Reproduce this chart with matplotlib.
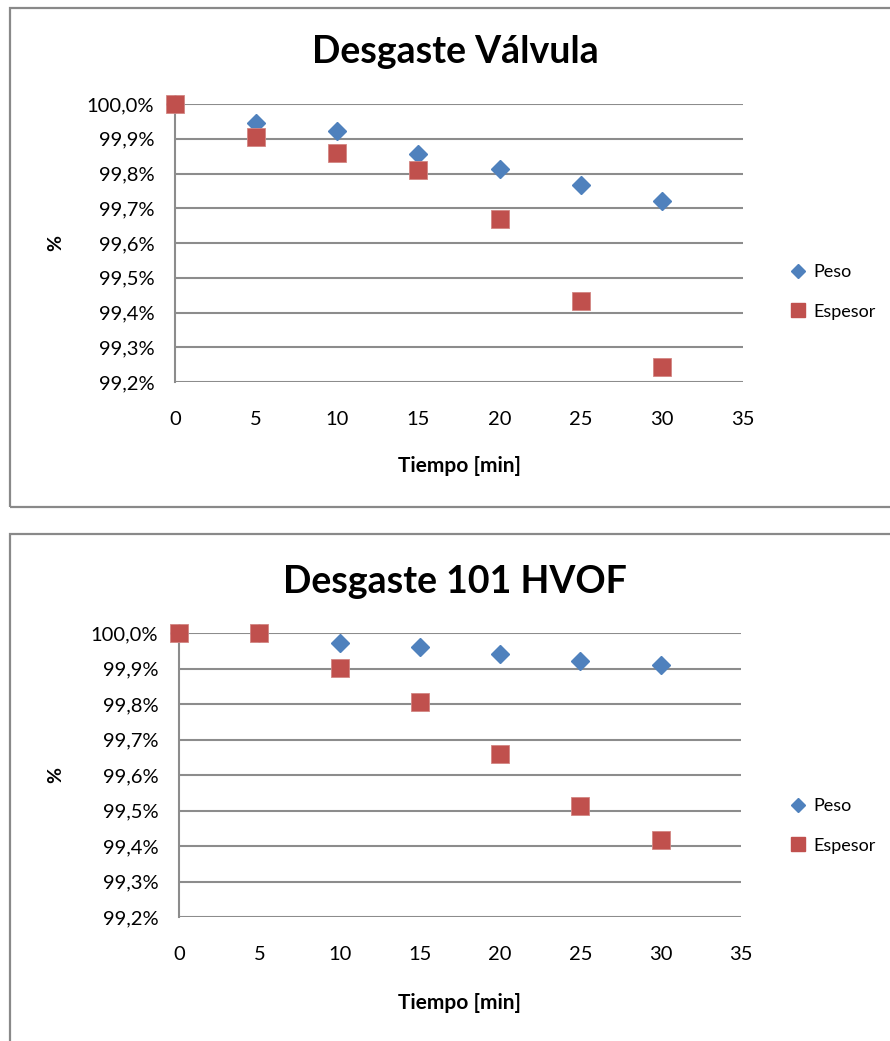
import matplotlib
matplotlib.use("Agg")
import matplotlib.pyplot as plt
from matplotlib.lines import Line2D
from matplotlib.patches import Rectangle
from matplotlib.ticker import FuncFormatter

plt.rcParams['font.family'] = ['Lato', 'DejaVu Sans']

# ---- data ----
tiempo = [0, 5, 10, 15, 20, 25, 30]
titles = ["Desgaste Válvula", "Desgaste 101 HVOF"]
peso_valvula = [100.0, 99.945, 99.922, 99.856, 99.812, 99.767, 99.721]
espesor_valvula = [100.0, 99.905, 99.859, 99.810, 99.669, 99.433, 99.243]
peso_hvof = [100.0, 100.0, 99.972, 99.961, 99.941, 99.921, 99.910]
espesor_hvof = [100.0, 100.0, 99.901, 99.806, 99.659, 99.513, 99.417]
series_names = ["Peso", "Espesor"]
xticks = [0, 5, 10, 15, 20, 25, 30, 35]
yticks = [99.2, 99.3, 99.4, 99.5, 99.6, 99.7, 99.8, 99.9, 100.0]

c_peso = "#4F81BD"
c_esp = "#C0504D"
grid_c = "#8C8C8C"

W, H = 890, 1041
fig = plt.figure(figsize=(W / 100, H / 100), dpi=100)

panels = [
    dict(ax=(175, 104, 743, 382), box=(10, 8, 900, 507), title_y=52, xlabel_y=466,
         peso=peso_valvula, esp=espesor_valvula, title=titles[0], leg_y=292),
    dict(ax=(179, 633, 741, 917), box=(10, 534, 900, 1060), title_y=582, xlabel_y=1003,
         peso=peso_hvof, esp=espesor_hvof, title=titles[1], leg_y=826),
]

def fx(px):
    return px / W

def fy(py):
    return 1 - py / H

for p in panels:
    l, t, r, b = p["ax"]
    bl, bt, br, bb = p["box"]
    fig.patches.append(Rectangle((fx(bl), fy(bb)), fx(br - bl), (bb - bt) / H,
                                 transform=fig.transFigure, fill=False,
                                 edgecolor="#898989", linewidth=1.6, zorder=0))
    ax = fig.add_axes([fx(l), fy(b), fx(r - l), (b - t) / H])
    ax.set_xlim(0, 35)
    ax.set_ylim(99.2, 100.0)
    ax.set_xticks(xticks)
    ax.set_yticks(yticks)
    ax.yaxis.set_major_formatter(FuncFormatter(lambda v, pos: f"{v:.1f}%".replace(".", ",")))
    ax.tick_params(length=0, labelsize=14.5)
    ax.tick_params(axis='x', pad=21)
    ax.tick_params(axis='y', pad=15)
    for s in ["top", "right", "bottom"]:
        ax.spines[s].set_visible(False)
    ax.spines["left"].set_color(grid_c)
    ax.spines["left"].set_linewidth(1.5)
    ax.grid(axis='y', color=grid_c, linewidth=1.5)
    ax.set_axisbelow(True)
    ax.plot(tiempo, p["peso"], linestyle="none", marker="D", markersize=9.5,
            color=c_peso, markeredgecolor=c_peso, clip_on=False, zorder=3)
    ax.plot(tiempo, p["esp"], linestyle="none", marker="s", markersize=13,
            color=c_esp, markeredgecolor="#D38683", markeredgewidth=0.6,
            clip_on=False, zorder=4)
    fig.text(fx(455), fy(p["title_y"]), p["title"], ha="center", va="center",
             fontsize=27, fontweight="bold")
    fig.text(fx(459), fy(p["xlabel_y"]), "Tiempo [min]", ha="center", va="center",
             fontsize=15, fontweight="bold")
    fig.text(fx(56), fy((t + b) / 2), "%", ha="center", va="center",
             fontsize=14, fontweight="bold", rotation=90)
    handles = [
        Line2D([], [], linestyle="none", marker="D", markersize=7.5, color=c_peso),
        Line2D([], [], linestyle="none", marker="s", markersize=10, color=c_esp),
    ]
    fig.legend(handles, series_names, loc="center left",
               bbox_to_anchor=(fx(782), fy(p["leg_y"])), frameon=False,
               fontsize=13, labelspacing=1.3, handlelength=0.8, handletextpad=0.45,
               borderpad=0)

fig.savefig("out.png", dpi=100)
